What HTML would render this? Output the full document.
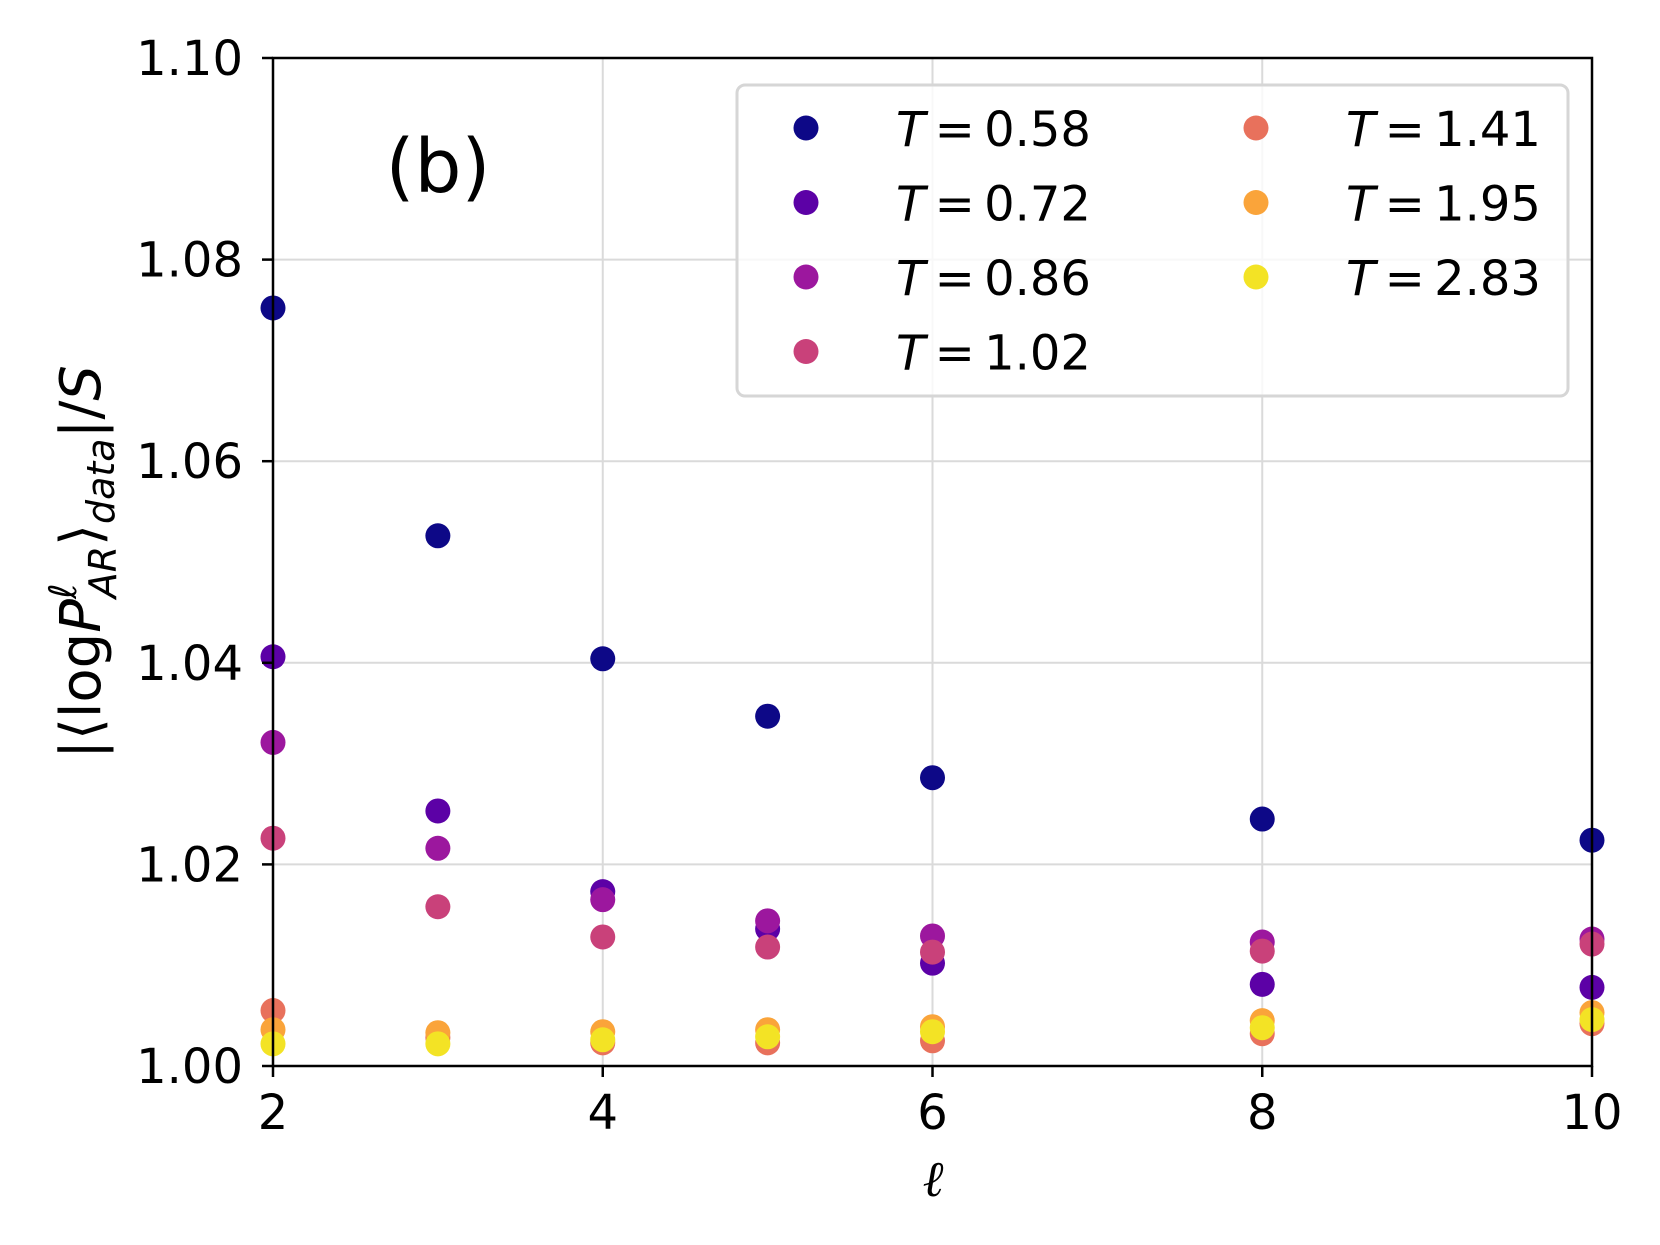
<!DOCTYPE html>
<html><head><meta charset="utf-8"><style>
body{margin:0;background:#fff}
svg{display:block;font-family:"DejaVu Sans","Liberation Sans",sans-serif}
</style></head><body>
<svg id="c" width="1660" height="1245" viewBox="0 0 1660 1245">
<g id="grid"></g>
<g id="pts"></g>
<g id="axes"></g>
<text x="438" y="192" font-size="74" text-anchor="middle">(b)</text>
<g id="legend"></g>
<text x="933" y="1196" font-size="50" font-style="italic" text-anchor="middle" font-family="DejaVu Serif, serif">ℓ</text>
<text transform="translate(100,562) rotate(-90)" font-size="56" text-anchor="middle">|⟨log<tspan font-style="italic">P</tspan><tspan font-size="38" dy="-24" font-style="italic">ℓ</tspan><tspan font-size="38" dx="-15" dy="40" font-style="italic">AR</tspan><tspan dy="-16">⟩</tspan><tspan font-size="38" dy="14" font-style="italic">data</tspan><tspan dy="-14">|/</tspan><tspan font-style="italic">S</tspan></text>
</svg>
<script>
const xTicks=[2,4,6,8,10];
const yTicks=[1.00,1.02,1.04,1.06,1.08,1.10];
const ells=[2,3,4,5,6,8,10];
const temps=["0.58","0.72","0.86","1.02","1.41","1.95","2.83"];
const colors=["#0d0887","#5c01a6","#9c179e","#c9417a","#e8715c","#faa43a","#f3e325"];
const s058=[1.0752,1.0526,1.0404,1.0347,1.0286,1.0245,1.0224];
const s072=[1.0406,1.0253,1.0173,1.0136,1.0102,1.0081,1.0078];
const s086=[1.0321,1.0216,1.0165,1.0144,1.0129,1.0123,1.0126];
const s102=[1.0226,1.0158,1.0128,1.0118,1.0113,1.0114,1.0121];
const s141=[1.0055,1.0028,1.0023,1.0023,1.0025,1.0032,1.0042];
const s195=[1.0036,1.0033,1.0034,1.0036,1.0039,1.0045,1.0053];
const s283=[1.0022,1.0022,1.0026,1.0029,1.0034,1.0038,1.0046];
const series=[s058,s072,s086,s102,s141,s195,s283];
const L=273,R=1592,T=58,B=1066;
const X=v=>L+(v-2)/(10-2)*(R-L);
const Y=v=>B-(v-1.0)/(0.1)*(B-T);
const NS="http://www.w3.org/2000/svg";
function mk(p,tag,a){const e=document.createElementNS(NS,tag);for(const k in a)e.setAttribute(k,a[k]);p.appendChild(e);return e;}
const grid=document.getElementById('grid'),axes=document.getElementById('axes'),pts=document.getElementById('pts'),leg=document.getElementById('legend');
xTicks.forEach(t=>{
 const g=mk(grid,'line',{x1:X(t),x2:X(t),y1:T,y2:B,stroke:'#dadada','stroke-width':2});
 
 
 const k=mk(axes,'line',{x1:X(t),x2:X(t),y1:B,y2:B+11,stroke:'#000','stroke-width':2.5});
 
 
 const tx=mk(axes,'text',{x:X(t),y:B+63,'font-size':48,'text-anchor':'middle'});
 tx.textContent=t;
 
 
});
yTicks.forEach(t=>{
 const g=mk(grid,'line',{x1:L,x2:R,y1:Y(t),y2:Y(t),stroke:'#dadada','stroke-width':2});
 
 
 const k=mk(axes,'line',{x1:L-11,x2:L,y1:Y(t),y2:Y(t),stroke:'#000','stroke-width':2.5});
 
 
 const tx=mk(axes,'text',{x:L-30,y:Y(t)+17,'font-size':48,'text-anchor':'end'});
 tx.textContent=t.toFixed(2);
 
 
});
const fr=mk(axes,'rect',{x:L,y:T,width:R-L,height:B-T,fill:'none',stroke:'#000','stroke-width':2.5});


series.forEach((s,i)=>{s.forEach((v,j)=>{
 const c=mk(pts,'circle',{cx:X(ells[j]),cy:Y(v),r:12.5,fill:colors[i]});
 
 
});});
const lb=mk(leg,'rect',{x:737,y:85,width:831,height:311,rx:8,fill:'#fff','fill-opacity':0.8,stroke:'#d6d6d6','stroke-width':3});


temps.forEach((t,i)=>{
 const col=i<4?0:1,row=i<4?i:i-4;
 const mx=col?1256:806,ty=128+row*74.5;
 const c=mk(leg,'circle',{cx:mx,cy:ty,r:12.5,fill:colors[i]});
 
 
 const tx=mk(leg,'text',{x:mx+90,y:ty+18,'font-size':48,'word-spacing':'-6'});
 tx.innerHTML='<tspan font-style="italic">T</tspan> = '+t;
 
 
});
</script>
</body></html>
